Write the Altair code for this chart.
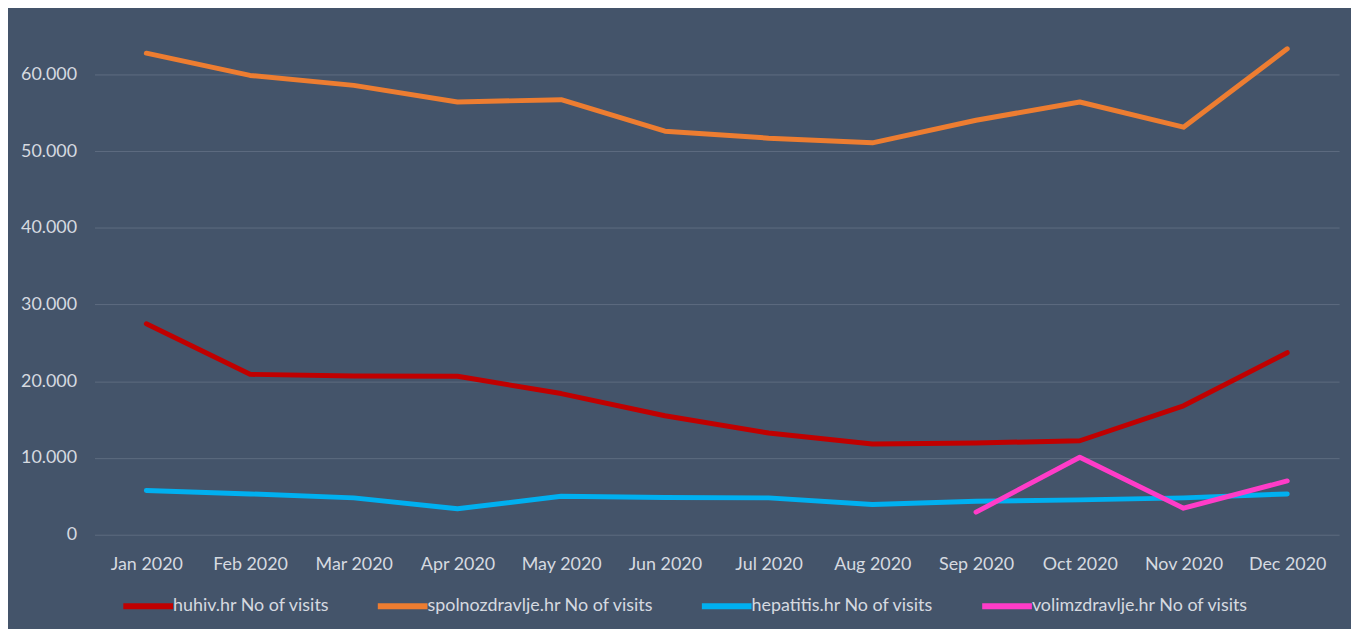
import altair as alt
import pandas as pd

months = ["Jan 2020", "Feb 2020", "Mar 2020", "Apr 2020", "May 2020", "Jun 2020",
          "Jul 2020", "Aug 2020", "Sep 2020", "Oct 2020", "Nov 2020", "Dec 2020"]
series_names = ["huhiv.hr No of visits", "spolnozdravlje.hr No of visits",
                "hepatitis.hr No of visits", "volimzdravlje.hr No of visits"]
huhiv = [27490, 20910, 20690, 20650, 18400, 15500, 13250, 11820, 11950, 12250, 16800, 23730]
spolnozdravlje = [62770, 59870, 58570, 56400, 56710, 52600, 51690, 51080, 54030, 56400, 53120, 63340]
hepatitis = [5760, 5320, 4800, 3380, 5020, 4850, 4800, 3940, 4370, 4540, 4800, 5320]
volimzdravlje = [None, None, None, None, None, None, None, None, 2940, 10090, 3460, 7010]
colors = ["#C00000", "#ED7D31", "#00B0F0", "#FF3CC8"]
y_ticks = [0, 10000, 20000, 30000, 40000, 50000, 60000]

rows = []
for name, vals in zip(series_names, [huhiv, spolnozdravlje, hepatitis, volimzdravlje]):
    for m, v in zip(months, vals):
        rows.append({"month": m, "series": name, "value": v})
df = pd.DataFrame(rows)

FONT = "Lato"
TEXT = "#D6DAE0"
FS = 18

chart = alt.Chart(df).mark_line(strokeWidth=5, strokeCap="round", strokeJoin="round").encode(
    x=alt.X("month:N", sort=months, title=None,
            scale=alt.Scale(type="point", padding=0.5),
            axis=alt.Axis(domain=False, ticks=False, labelAngle=0, labelPadding=21,
                          labelFontSize=FS, labelColor=TEXT, labelFont=FONT)),
    y=alt.Y("value:Q", title=None,
            scale=alt.Scale(domain=[0, 67900], nice=False),
            axis=alt.Axis(values=y_ticks, domain=False, ticks=False, labelPadding=18,
                          labelFontSize=FS, labelColor=TEXT, labelFont=FONT,
                          gridColor="#5E6C80", gridWidth=1,
                          labelExpr="replace(format(datum.value, ','), ',', '.')")),
    color=alt.Color("series:N", sort=series_names,
                    scale=alt.Scale(domain=series_names, range=colors),
                    legend=alt.Legend(title=None, orient="none", direction="horizontal",
                                      legendX=26, legendY=568,
                                      symbolType="stroke", symbolSize=2500,
                                      symbolStrokeWidth=6, labelOffset={"expr": "-3"},
                                      columnPadding=36, labelFontSize=FS,
                                      labelColor=TEXT, labelFont=FONT, labelLimit=400)),
    order=alt.Order("series:N"),
).properties(
    width=1252, height=524,
    background="#44546A",
    padding={"left": 87, "top": 4, "right": 12, "bottom": 93},
    autosize=alt.AutoSizeParams(type="none"),
).configure_view(stroke=None)

chart.save("out.html", embed_options={"renderer": "svg", "actions": False})
